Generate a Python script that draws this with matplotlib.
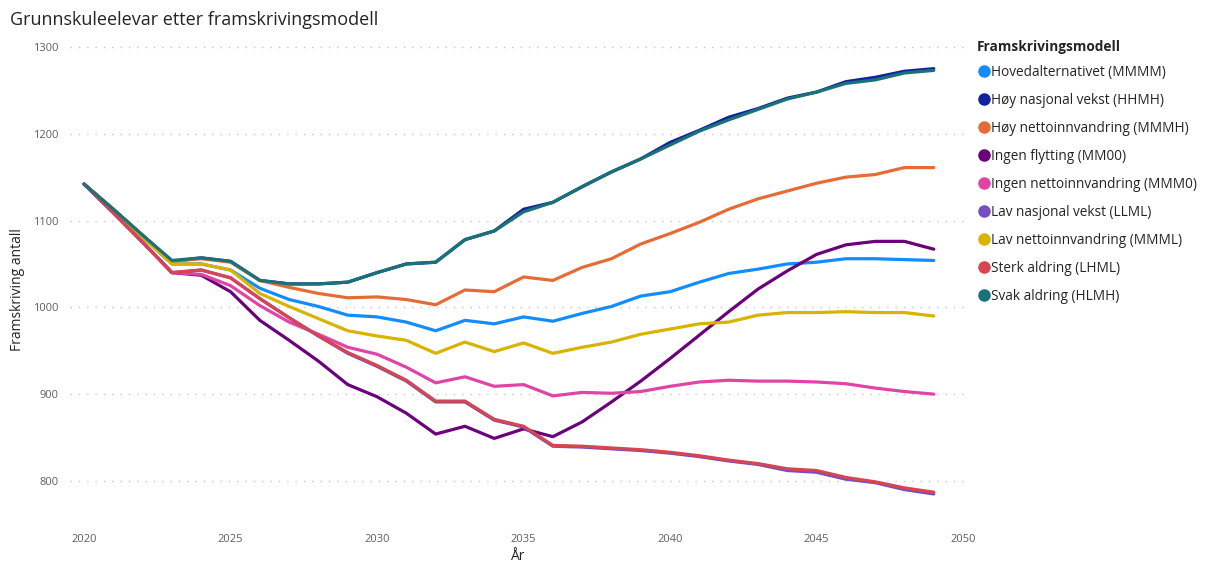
import matplotlib.pyplot as plt
from matplotlib.lines import Line2D

W, H = 1205, 564

years = list(range(2020, 2050))

models = [
    "Hovedalternativet (MMMM)",
    "Høy nasjonal vekst (HHMH)",
    "Høy nettoinnvandring (MMMH)",
    "Ingen flytting (MM00)",
    "Ingen nettoinnvandring (MMM0)",
    "Lav nasjonal vekst (LLML)",
    "Lav nettoinnvandring (MMML)",
    "Sterk aldring (LHML)",
    "Svak aldring (HLMH)",
]
colors = ["#118DFF", "#12239E", "#E66C37", "#6B007B", "#E044A7",
          "#744EC2", "#D9B300", "#D64550", "#197278"]

hoved = [1142, 1112, 1081, 1050, 1050, 1043, 1022, 1009, 1001, 991,
         989, 983, 973, 985, 981, 989, 984, 993, 1001, 1013,
         1018, 1029, 1039, 1044, 1050, 1052, 1056, 1056, 1055, 1054]
hoy_nasjonal = [1142, 1113, 1083, 1053, 1057, 1053, 1031, 1027, 1027, 1029,
                1040, 1050, 1052, 1078, 1088, 1113, 1121, 1139, 1156, 1171,
                1190, 1204, 1219, 1229, 1241, 1248, 1260, 1265, 1272, 1275]
hoy_netto = [1142, 1113, 1083, 1053, 1056, 1052, 1031, 1023, 1016, 1011,
             1012, 1009, 1003, 1020, 1018, 1035, 1031, 1046, 1056, 1073,
             1085, 1098, 1113, 1125, 1134, 1143, 1150, 1153, 1161, 1161]
ingen_flytting = [1142, 1109, 1075, 1040, 1037, 1018, 985, 962, 938, 911,
                  897, 878, 854, 863, 849, 860, 851, 868, 891, 915,
                  941, 968, 995, 1021, 1042, 1061, 1072, 1076, 1076, 1067]
ingen_netto = [1142, 1109, 1075, 1040, 1038, 1025, 1002, 983, 969, 954,
               946, 931, 913, 920, 909, 911, 898, 902, 901, 903,
               909, 914, 916, 915, 915, 914, 912, 907, 903, 900]
lav_nasjonal = [1142, 1109, 1075, 1040, 1043, 1034, 1010, 988, 967, 947,
                932, 915, 891, 891, 870, 862, 840, 839, 837, 835,
                832, 828, 823, 819, 812, 810, 802, 798, 790, 785]
lav_netto = [1142, 1112, 1081, 1050, 1050, 1043, 1016, 1001, 987, 973,
             967, 962, 947, 960, 949, 959, 947, 954, 960, 969,
             975, 981, 983, 991, 994, 994, 995, 994, 994, 990]
sterk = [1142, 1109, 1075, 1040, 1043, 1034, 1010, 988, 967, 948,
         933, 916, 892, 892, 871, 863, 841, 840, 838, 836,
         833, 829, 824, 820, 814, 812, 804, 799, 792, 787]
svak = [1142, 1113, 1083, 1054, 1057, 1053, 1031, 1027, 1027, 1029,
        1040, 1050, 1052, 1078, 1088, 1110, 1121, 1139, 1156, 1171,
        1187, 1203, 1216, 1228, 1240, 1248, 1258, 1262, 1270, 1273]

series = [hoved, hoy_nasjonal, hoy_netto, ingen_flytting, ingen_netto,
          lav_nasjonal, lav_netto, sterk, svak]

plt.rcParams["font.family"] = ["Open Sans", "DejaVu Sans"]
TXT = "#252423"
TICK = "#605E5C"

fig = plt.figure(figsize=(W / 100, H / 100), dpi=100, facecolor="white")
ax = fig.add_axes([70 / W, 1 - 520 / H, (966 - 70) / W, (520 - 40) / H])

for vals, col in zip(series, colors):
    ax.plot(years, vals, color=col, lw=2.3, solid_joinstyle="round", solid_capstyle="round")

ax.set_xlim(2019.52, 2050.1)
ax.set_ylim(755, 1308)
ax.set_xticks(range(2020, 2051, 5))
ax.set_yticks(range(800, 1301, 100))
ax.tick_params(length=0, labelsize=8, labelcolor=TICK)
ax.tick_params(axis="x", pad=10)
ax.tick_params(axis="y", pad=8)
ax.grid(axis="y", color="#C8C6C4", lw=1, linestyle=(0, (1, 5)))
ax.grid(axis="x", visible=False)
for s in ax.spines.values():
    s.set_visible(False)

ax.set_xlabel("År", fontsize=10, color=TXT, labelpad=3)
ax.set_ylabel("Framskriving antall", fontsize=10, color=TXT)
ax.yaxis.set_label_coords(-0.050, 0.48)

fig.text(10 / W, 1 - 20 / H, "Grunnskuleelevar etter framskrivingsmodell",
         fontsize=13, color=TXT, ha="left", va="center")

handles = [Line2D([], [], marker="o", linestyle="none", markersize=8,
                  markerfacecolor=c, markeredgecolor=c) for c in colors]
leg = fig.legend(handles, models, loc="upper left",
                 bbox_to_anchor=(977 / W, 1 - 40 / H), frameon=False,
                 title="Framskrivingsmodell", fontsize=9.8,
                 handletextpad=0.0, handlelength=1.0, labelspacing=0.95,
                 borderaxespad=0, borderpad=0)
leg.get_title().set_fontweight("bold")
leg.get_title().set_fontsize(9.8)
leg.get_title().set_color(TXT)
leg._legend_box.align = "left"
leg._legend_box.sep = 8
for t in leg.get_texts():
    t.set_color(TXT)

fig.savefig("out.png", dpi=100, facecolor="white")
